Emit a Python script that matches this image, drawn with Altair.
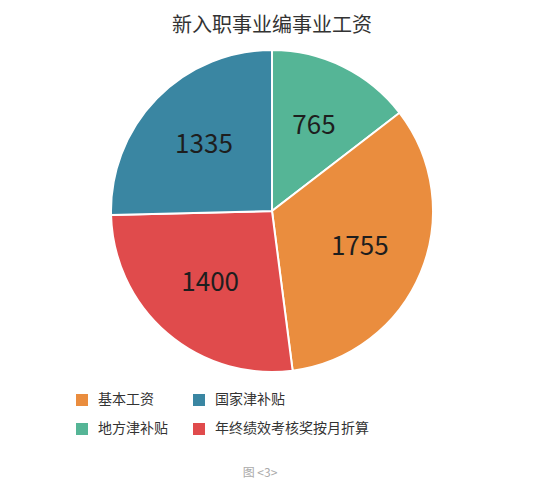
import altair as alt
import pandas as pd

# Slices in clockwise order starting at 12 o'clock
categories = ["地方津补贴", "基本工资", "年终绩效考核奖按月折算", "国家津补贴"]
values = [765, 1755, 1400, 1335]
slice_order = [0, 1, 2, 3]

# Legend order (two columns; Vega fills column by column) and matching colours
legend_order = ["基本工资", "地方津补贴", "国家津补贴", "年终绩效考核奖按月折算"]
legend_colors = ["#ea8d3e", "#55b596", "#3a86a2", "#e04b4c"]

title_text = "新入职事业编事业工资"
caption_text = "图 <3>"

FONT = "Noto Sans CJK SC"

df = pd.DataFrame({"category": categories, "value": values, "order": slice_order})
df_title = pd.DataFrame({"t": [title_text]})
df_caption = pd.DataFrame({"t": [caption_text]})

CX, CY = 264, 203

base = alt.Chart(df).encode(
    theta=alt.Theta("value:Q", stack=True),
    order=alt.Order("order:Q"),
    x=alt.value(CX),
    y=alt.value(CY),
)

arcs = base.mark_arc(radius=161, stroke="white", strokeWidth=2).encode(
    color=alt.Color(
        "category:N",
        scale=alt.Scale(domain=legend_order, range=legend_colors),
        sort=legend_order,
        legend=alt.Legend(
            orient="none",
            legendX=67,
            legendY=385,
            columns=2,
            title=None,
            symbolType="square",
            symbolSize=144,
            symbolStrokeWidth=0,
            labelFont=FONT,
            labelFontSize=14,
            labelColor="#333333",
            labelOffset=9,
            columnPadding=24,
            rowPadding=15,
            padding=0,
        ),
    )
)

labels = base.mark_text(radius=95, font=FONT, fontSize=26, color="#1e1e1e").encode(
    text="value:Q"
)

title = alt.Chart(df_title).mark_text(
    font=FONT, fontSize=20, color="#333333", baseline="middle", align="center"
).encode(text="t:N", x=alt.value(264), y=alt.value(18))

caption = alt.Chart(df_caption).mark_text(
    font=FONT, fontSize=12, color="#aaaaaa", baseline="bottom", align="center"
).encode(text="t:N", x=alt.value(252), y=alt.value(472))

chart = (
    alt.layer(arcs, labels, title, caption)
    .properties(width=536, height=472, padding=0, autosize="none")
    .configure_view(stroke=None)
)

chart.save("out.html", embed_options={"renderer": "svg", "actions": False})
